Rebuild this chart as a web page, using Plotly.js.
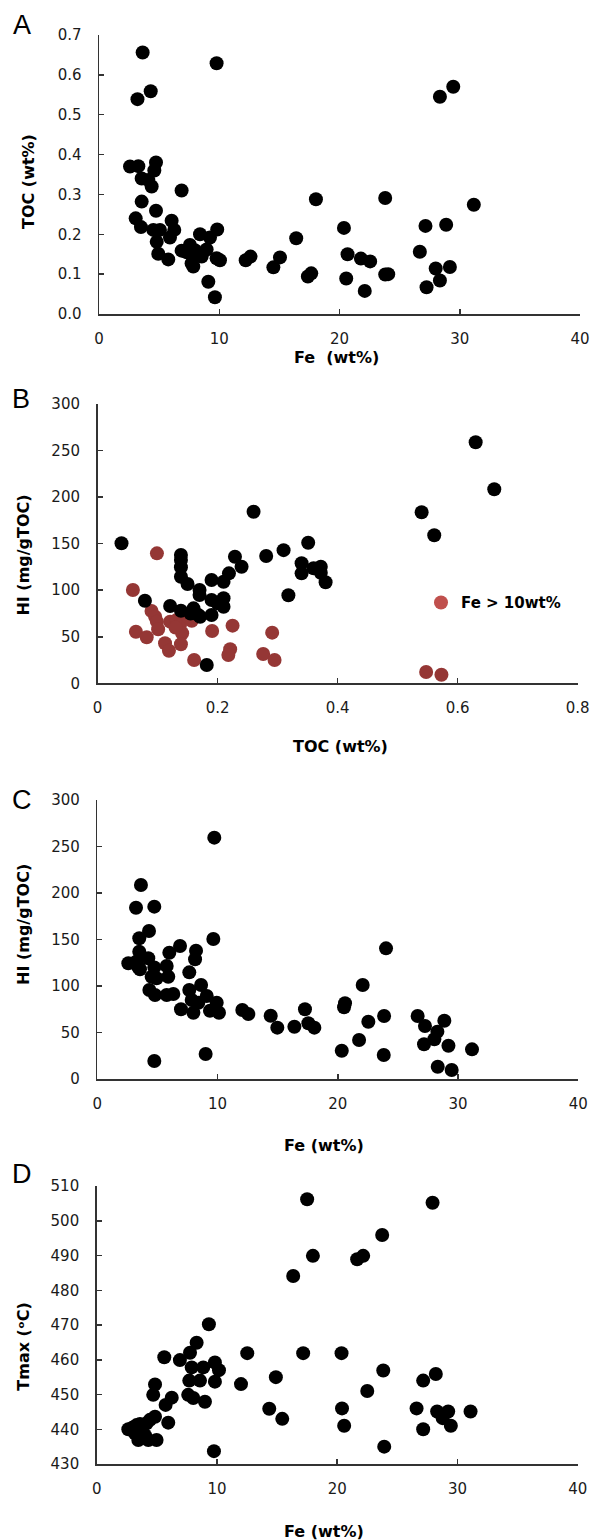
<!DOCTYPE html>
<html>
<head>
<meta charset="utf-8">
<script src="https://cdn.plot.ly/plotly-3.0.1.min.js"></script>
<style>html,body{margin:0;padding:0;background:#fff;}</style>
</head>
<body>
<div id="chart" style="width:591px;height:1540px;"></div>
<script>
// ---------- Panel A : TOC vs Fe ----------
const feA = [3.63, 9.78, 3.2, 4.3, 2.58, 3.27, 4.74, 4.6, 3.55, 4.1, 4.38, 6.87, 3.55, 4.74, 3.05, 3.49, 4.52, 5.07, 6.04, 6.26, 5.9, 4.8, 4.93, 5.76, 6.87, 7.56, 8.4, 9.23, 9.83, 7.98, 8.95, 7.7, 7.84, 8.54, 10.06, 9.09, 9.64, 9.78, 8.2, 7.3,
  12.2, 12.6, 14.5, 15.05, 16.4, 17.37, 17.65, 18.04, 20.37, 20.56, 20.67, 21.78, 22.1, 22.55, 23.8, 23.8, 24.05, 26.68, 27.15, 27.24, 28.0, 28.35, 28.35, 28.87, 29.18, 29.46, 31.17];
const tocA = [0.656, 0.629, 0.539, 0.559, 0.37, 0.371, 0.38, 0.36, 0.34, 0.336, 0.32, 0.31, 0.282, 0.259, 0.24, 0.218, 0.211, 0.211, 0.234, 0.211, 0.192, 0.181, 0.151, 0.137, 0.159, 0.173, 0.2, 0.192, 0.212, 0.16, 0.162, 0.127, 0.119, 0.144, 0.135, 0.081, 0.042, 0.14, 0.15, 0.155,
  0.135, 0.144, 0.117, 0.142, 0.19, 0.094, 0.102, 0.288, 0.216, 0.089, 0.15, 0.139, 0.058, 0.132, 0.291, 0.099, 0.1, 0.156, 0.221, 0.067, 0.114, 0.545, 0.084, 0.224, 0.118, 0.57, 0.274];

// ---------- Panel B : HI vs TOC ----------
const tocB_low = [0.04, 0.079, 0.121, 0.139, 0.139, 0.139, 0.139, 0.139, 0.15, 0.17, 0.17, 0.19, 0.21, 0.219, 0.229, 0.24, 0.26, 0.281, 0.31, 0.318, 0.351, 0.34, 0.34, 0.36, 0.372, 0.372, 0.38, 0.63, 0.661, 0.54, 0.561, 0.16, 0.168, 0.171, 0.19, 0.19, 0.21, 0.21, 0.2, 0.182, 0.155];
const hiB_low  = [150.4, 88.7, 83, 78, 137.8, 132.4, 124.6, 114.5, 106.7, 100.2, 94.8, 111, 109.1, 118.1, 136, 125.2, 184.3, 136.7, 143, 94.6, 151, 128.9, 118.1, 123.5, 125.3, 118.8, 108.5, 258.9, 208.4, 183.7, 159, 80.5, 73.4, 71.5, 89.5, 73.4, 91.3, 82.3, 86, 19.7, 75];
const tocB_high = [0.099, 0.059, 0.064, 0.082, 0.09, 0.096, 0.099, 0.101, 0.1125, 0.119, 0.121, 0.132, 0.1375, 0.141, 0.139, 0.157, 0.15, 0.161, 0.191, 0.225, 0.221, 0.218, 0.276, 0.291, 0.295, 0.5475, 0.573, 0.13];
const hiB_high  = [139.6, 100.2, 55.4, 49.4, 77.7, 71.5, 66.2, 58, 43, 35, 66.2, 68, 62.6, 53.7, 41.9, 67.2, 72, 25, 56.2, 61.9, 36.5, 30.4, 31.5, 54.4, 25, 12.1, 9.2, 60];
const legendLabelB = 'Fe > 10wt%';

// ---------- Panel C : HI vs Fe ----------
const feC = [9.73, 3.63, 3.22, 4.74, 4.3, 3.49, 9.65, 6.88, 5.99, 8.21, 8.13, 3.49, 2.58, 3.24, 3.42, 4.24, 4.74, 5.77, 5.9, 4.52, 4.93, 7.65, 4.33, 4.8, 5.77, 6.32, 7.65, 8.63, 9.1, 9.93, 10.12, 9.37, 7.99, 6.96, 7.85, 8.4, 4.74, 9.01, 3.55,
  12.06, 12.56, 14.42, 14.97, 16.39, 24.01, 22.07, 20.6, 20.52, 17.27, 17.55, 18.05, 22.54, 21.77, 20.33, 23.85, 23.82, 26.64, 27.25, 27.17, 28.86, 28.28, 28.03, 29.2, 31.16, 28.31, 29.47];
const hiC = [259.5, 208.6, 184.2, 185.3, 159.1, 151.3, 150.5, 143, 135.8, 138, 128.7, 136.9, 124.4, 126, 120, 129.8, 120, 121.5, 110, 110, 108.3, 114.7, 95.7, 90.3, 90.3, 91.4, 95.7, 101, 89.2, 82, 71.3, 73.4, 71.3, 75, 85, 82, 19.4, 26.9, 118,
  74.2, 69.9, 68, 55.2, 56.2, 140.5, 101.1, 81.4, 77.1, 75, 59.9, 55.2, 61.6, 41.9, 30.4, 67.7, 25.8, 67.7, 57, 37.3, 62.7, 50.9, 42.7, 35.8, 31.9, 13.2, 9.7];

// ---------- Panel D : Tmax vs Fe ----------
const feD = [9.33, 8.31, 7.76, 5.62, 6.92, 7.9, 8.86, 9.83, 10.17, 7.7, 8.59, 9.83, 4.85, 4.7, 7.61, 8.03, 9.0, 6.24, 5.73, 5.95, 4.85, 4.43, 4.15, 3.32, 2.63, 3.18, 3.74, 4.01, 3.46, 4.29, 4.98, 9.75, 3.0, 3.6,
  12.0, 12.52, 14.9, 14.35, 15.43, 16.34, 17.5, 27.93, 23.74, 17.98, 21.66, 22.16, 17.17, 20.36, 23.83, 28.2, 27.15, 22.5, 20.4, 26.6, 28.31, 29.23, 31.09, 28.77, 20.58, 27.15, 29.45, 23.91];
const tmaxD = [470.2, 464.9, 462, 460.7, 459.9, 457.8, 457.8, 459.2, 457, 454, 454, 453.7, 452.9, 449.9, 449.9, 449, 447.9, 449.1, 447, 441.9, 443.6, 442.7, 441.7, 441.2, 440, 438.8, 439.8, 438.3, 436.9, 436.9, 436.9, 433.7, 440.5, 441.5,
  453, 461.9, 455, 445.9, 443, 484.1, 506.2, 505.2, 495.9, 489.9, 488.9, 489.9, 461.9, 461.9, 456.9, 455.9, 454, 451, 446, 446, 445.1, 445.1, 445.1, 443.2, 441, 440, 441, 435];

// ---------- tick / axis labels ----------
const panelLetters = ['A', 'B', 'C', 'D'];
const xTitles = ['Fe  (wt%)', 'TOC (wt%)', 'Fe (wt%)', 'Fe (wt%)'];
const yTitles = ['TOC (wt%)', 'HI (mg/gTOC)', 'HI (mg/gTOC)', 'Tmax (\u1D52C)'];

// ---------- layout helpers ----------
const W = 591, H = 1540;
const px = v => v / W;
const py = v => 1 - v / H;

const BLACK = '#000000';
const DARKRED = '#953735';
const LEGRED = '#c0504d';
const MS = 14;
const TICKFONT = {family: 'DejaVu Sans, Open Sans, sans-serif', size: 15, color: '#1a1a1a'};
const TITLEFONT = {family: 'DejaVu Sans, Open Sans, sans-serif', size: 16, color: '#000', weight: 'bold'};

function axis(extra) {
  return Object.assign({
    showgrid: false, zeroline: false, showline: true, linecolor: '#333', linewidth: 1.5,
    ticks: 'inside', ticklen: 5, tickwidth: 1.5, tickcolor: '#333',
    tickfont: TICKFONT, fixedrange: true, automargin: false
  }, extra);
}

const mk = (color) => ({color: color, size: MS, line: {width: 0}});

const traces = [
  {x: feA, y: tocA, type: 'scatter', mode: 'markers', marker: mk(BLACK), xaxis: 'x', yaxis: 'y', showlegend: false, cliponaxis: false},
  {x: tocB_high, y: hiB_high, type: 'scatter', mode: 'markers', marker: mk(DARKRED), xaxis: 'x2', yaxis: 'y2', showlegend: false, cliponaxis: false},
  {x: tocB_low, y: hiB_low, type: 'scatter', mode: 'markers', marker: mk(BLACK), xaxis: 'x2', yaxis: 'y2', showlegend: false, cliponaxis: false},
  {x: [null], y: [null], type: 'scatter', mode: 'markers', marker: mk(LEGRED), xaxis: 'x2', yaxis: 'y2', name: legendLabelB, showlegend: true},
  {x: feC, y: hiC, type: 'scatter', mode: 'markers', marker: mk(BLACK), xaxis: 'x3', yaxis: 'y3', showlegend: false, cliponaxis: false},
  {x: feD, y: tmaxD, type: 'scatter', mode: 'markers', marker: mk(BLACK), xaxis: 'x4', yaxis: 'y4', showlegend: false, cliponaxis: false}
];

// plot-area boxes in pixels [left, right, top, bottom]
const boxes = [
  [99, 580, 35, 314],
  [97.5, 577.7, 404, 683.3],
  [97.3, 578.3, 800, 1079],
  [96.7, 577.7, 1186, 1464]
];

const layout = {
  width: W, height: H,
  margin: {l: 0, r: 0, t: 0, b: 0, pad: 0},
  paper_bgcolor: '#fff', plot_bgcolor: '#fff',
  showlegend: true,
  legend: {x: px(421), y: py(602.7), xanchor: 'left', yanchor: 'middle',
           font: {family: 'DejaVu Sans, Open Sans, sans-serif', size: 15, color: '#000', weight: 'bold'},
           bgcolor: 'rgba(0,0,0,0)', borderwidth: 0},
  xaxis: axis({domain: [px(boxes[0][0]), px(boxes[0][1])], range: [0, 40], dtick: 10, tick0: 0, anchor: 'y', ticklabelstandoff: 10}),
  yaxis: axis({domain: [py(boxes[0][3]), py(boxes[0][2])], range: [0, 0.7], dtick: 0.1, tick0: 0, tickformat: '.1f', anchor: 'x', ticklabelstandoff: 13}),
  xaxis2: axis({domain: [px(boxes[1][0]), px(boxes[1][1])], range: [0, 0.8], dtick: 0.2, tick0: 0, anchor: 'y2', ticklabelstandoff: 10}),
  yaxis2: axis({domain: [py(boxes[1][3]), py(boxes[1][2])], range: [0, 300], dtick: 50, tick0: 0, anchor: 'x2', ticklabelstandoff: 13}),
  xaxis3: axis({domain: [px(boxes[2][0]), px(boxes[2][1])], range: [0, 40], dtick: 10, tick0: 0, anchor: 'y3', ticklabelstandoff: 10}),
  yaxis3: axis({domain: [py(boxes[2][3]), py(boxes[2][2])], range: [0, 300], dtick: 50, tick0: 0, anchor: 'x3', ticklabelstandoff: 13}),
  xaxis4: axis({domain: [px(boxes[3][0]), px(boxes[3][1])], range: [0, 40], dtick: 10, tick0: 0, anchor: 'y4', ticklabelstandoff: 10}),
  yaxis4: axis({domain: [py(boxes[3][3]), py(boxes[3][2])], range: [430, 510], dtick: 10, tick0: 430, anchor: 'x4', ticklabelstandoff: 13}),
  annotations: []
};

// panel letters
const letterPos = [[21.7, 24.7], [20.8, 399], [21.7, 800], [22, 1174]];
letterPos.forEach((p, i) => layout.annotations.push({
  text: panelLetters[i], xref: 'paper', yref: 'paper', x: px(p[0]), y: py(p[1]),
  xanchor: 'center', yanchor: 'middle', showarrow: false,
  font: {family: 'Liberation Sans, Arial, sans-serif', size: 27, color: '#000'}
}));
// x-axis titles
const xTitlePos = [[336.7, 357], [340, 746.7], [323.5, 1145], [323.5, 1531]];
xTitlePos.forEach((p, i) => layout.annotations.push({
  text: xTitles[i], xref: 'paper', yref: 'paper', x: px(p[0]), y: py(p[1]),
  xanchor: 'center', yanchor: 'middle', showarrow: false, font: TITLEFONT
}));
// y-axis titles
const yTitlePos = [[28.3, 181.7], [24, 555.6], [23, 925], [24, 1346.7]];
yTitlePos.forEach((p, i) => layout.annotations.push({
  text: yTitles[i], xref: 'paper', yref: 'paper', x: px(p[0]), y: py(p[1]),
  xanchor: 'center', yanchor: 'middle', showarrow: false, textangle: -90, font: TITLEFONT
}));

Plotly.newPlot('chart', traces, layout, {displayModeBar: false, staticPlot: true});
</script>
</body>
</html>
